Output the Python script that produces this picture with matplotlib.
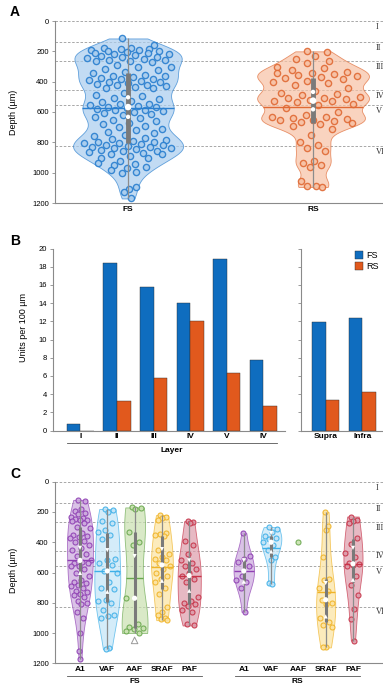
import numpy as np
import matplotlib.pyplot as plt
import matplotlib.transforms as mtransforms
from matplotlib import mlab

plt.rcParams['font.family'] = ['Liberation Sans', 'DejaVu Sans']

# --- A: recording depth (um) of every unit
fs_depth = [115, 160,
            175, 180, 182, 185, 188, 190, 195, 200, 205, 210, 212, 218, 220, 225,
            230, 235, 240, 245, 250, 255, 258, 262, 265, 270,
            290, 300, 305, 315, 325, 335, 345,
            355, 360, 362, 368, 375, 380, 385, 390, 395, 400, 405, 410, 415, 420,
            425, 430, 435, 440, 445,
            475, 485, 495, 505, 515, 525, 535,
            545, 550, 555, 560, 565, 570, 575, 580, 585, 590, 595, 600, 605, 610,
            620, 630, 640, 650, 660, 670, 680, 690, 700, 710, 720, 730, 740,
            750, 760, 770,
            780, 785, 790, 795, 800, 803, 806, 810, 815, 820, 825, 828, 832, 836,
            840, 845, 850, 855, 860, 865, 870, 875, 880, 890, 900, 905,
            920, 935, 945, 950, 960, 970, 980, 995,
            1005, 1095, 1110, 1130, 1170]
rs_depth = [200, 205, 230, 250, 265, 280, 300, 310, 325, 335, 340, 345, 350, 355,
            360, 370, 375, 380, 395, 405, 410, 420, 440, 460, 475, 480, 490, 500,
            505, 510, 515, 520, 525, 530, 535, 545, 555, 575, 600, 620, 630, 635,
            640, 645, 650, 655, 660, 665, 670, 680, 695, 710, 750, 800, 815, 840,
            860, 920, 935, 950, 960, 1055, 1085, 1090, 1095]

layer_depth = [0, 140, 265, 455, 555, 825]
layer_name = ['I', 'II', 'III', 'IV', 'V', 'VI']

# --- B: units per 100 um
layer_ticks = ['I', 'II', 'III', 'IV', 'V', 'IV']
fs_density = [0.7, 18.4, 15.8, 14.0, 18.9, 7.8]
rs_density = [0.0, 3.2, 5.8, 12.0, 6.3, 2.7]
group_ticks = ['Supra', 'Infra']
fs_group = [11.9, 12.4]
rs_group = [3.3, 4.2]

# --- C: depth by auditory field
fields = ['A1', 'VAF', 'AAF', 'SRAF', 'PAF']
fs_a1 = [120, 130, 180, 195, 205, 215, 230, 240, 245, 250, 255, 260, 270, 300, 305,
         340, 355, 360, 365, 370, 395, 400, 420, 440, 450, 480, 490, 520, 530, 535,
         540, 555, 560, 580, 600, 620, 650, 660, 670, 680, 690, 700, 720, 730, 740,
         750, 760, 790, 800, 810, 860, 900, 1000, 1120, 1170]
fs_vaf = [180, 185, 200, 260, 270, 320, 330, 350, 380, 510, 520, 540, 550, 590, 600,
          660, 700, 710, 780, 790, 800, 850, 880, 890, 900, 1100, 1105]
fs_aaf = [170, 175, 180, 330, 400, 420, 770, 940, 960, 970, 975, 985, 1000]
fs_sraf = [220, 230, 240, 250, 340, 345, 350, 360, 450, 480, 500, 510, 520, 540, 560,
           580, 600, 620, 640, 660, 700, 740, 830, 860, 880, 900, 910, 915]
fs_paf = [260, 265, 270, 395, 415, 475, 520, 540, 560, 580, 600, 620, 640, 660, 760,
          790, 800, 810, 820, 850, 860, 940, 950]
rs_a1 = [340, 490, 510, 530, 560, 620, 650, 660, 700, 860]
rs_vaf = [300, 310, 330, 360, 370, 380, 400, 420, 450, 500, 520, 670, 675]
rs_aaf = [400]
rs_sraf = [200, 290, 320, 500, 640, 650, 700, 720, 780, 800, 810, 900, 930, 950, 960,
           1090, 1095]
rs_paf = [230, 250, 260, 270, 370, 410, 470, 500, 540, 545, 550, 560, 620, 680, 750,
          840, 910, 1050]

field_fill = ['#cba8de', '#c2e4f7', '#c9e1b0', '#fce3a0', '#dd9caa']
field_line = ['#8f40b3', '#3fb0e8', '#6aa84f', '#f0b429', '#c73449']


def spread(n):
    # golden-ratio sequence, evenly scattered in [-1, 1]
    return ((np.arange(n) * 0.6180339887 + 0.31) % 1.0) * 2 - 1


def violin(ax, data, pos, width, fill, line, bw, size, big, tri):
    data = np.sort(np.asarray(data, float))
    n = len(data)
    if n > 1:
        vp = ax.violinplot([data], positions=[pos], widths=width, showextrema=False,
                           bw_method=bw)
        body = vp['bodies'][0]
        body.set_facecolor(fill)
        body.set_edgecolor(line)
        body.set_alpha(0.7)
        body.set_linewidth(0.6)
        body.set_zorder(1)
        kde = mlab.GaussianKDE(data, bw)
        grid = np.linspace(data.min(), data.max(), 100)
        peak = kde.evaluate(grid).max()
        half = 0.5 * width * kde.evaluate(data) / peak
    else:
        half = np.zeros(n)
    xs = pos + half * 0.85 * spread(n)
    ax.scatter(xs, data, s=size, facecolor=fill, edgecolor=line,
               linewidth=1.0 if big else 0.8, alpha=0.9, zorder=2)
    if n < 2:
        return
    q1, med, q3 = np.percentile(data, [25, 50, 75])
    mean = data.mean()
    mhalf = 0.5 * width * kde.evaluate([mean])[0] / peak
    ax.hlines(mean, pos - mhalf, pos + mhalf, color=line, lw=1.0, zorder=3)
    ax.vlines(pos, data.min(), data.max(), color='#8c8c8c', lw=0.9, zorder=3)
    ax.vlines(pos, q1, q3, color='#7a7a7a', lw=3.5 if big else 2.2, zorder=4)
    notch = 1.57 * (q3 - q1) / np.sqrt(n)
    for v, m in [(med - notch, 'v' if tri else 'o'), (med + notch, '^' if tri else 'o')]:
        if data.min() <= v <= data.max():
            ax.scatter(pos, v, s=10 if big else 9, marker=m, color='white',
                       edgecolor='none', zorder=5)
        else:
            ax.scatter(pos, v, s=22, marker='^', facecolor='none',
                       edgecolor='#9a9a9a', lw=0.7, zorder=5)
    ax.scatter(pos, med, s=22 if big else 14, color='white', edgecolor='none', zorder=5)


def layers(ax):
    tr = mtransforms.blended_transform_factory(ax.transAxes, ax.transData)
    for d, name in zip(layer_depth, layer_name):
        ax.axhline(d, color='#9a9a9a', lw=0.6, ls=(0, (3, 2)), zorder=0)
        ax.text(0.977, d + 12, name, transform=tr, va='top', ha='left',
                family='Liberation Serif', fontsize=6, color='#333333', clip_on=False)


def depth_axis(ax):
    ax.set_ylim(1200, 0)
    ax.set_yticks(range(0, 1201, 200))
    for s in ['top', 'right']:
        ax.spines[s].set_visible(False)
    for s in ['left', 'bottom']:
        ax.spines[s].set_color('#8a8a8a')
        ax.spines[s].set_linewidth(0.8)
    ax.tick_params(axis='y', length=2.5, width=0.6, color='#8a8a8a', labelsize=5.5, pad=2)
    ax.tick_params(axis='x', length=0, pad=2)


fig = plt.figure(figsize=(3.83, 6.85), dpi=100)
W, H = 383.0, 685.0


def box(x0, y0, x1, y1):
    # pixel box (top-left origin) -> figure fraction rect
    return [x0 / W, 1 - y1 / H, (x1 - x0) / W, (y1 - y0) / H]


# ---------------- A
axA = fig.add_axes(box(55, 21, 383, 203))
layers(axA)
violin(axA, fs_depth, 0, 0.595, '#a9cdee', '#2a7fcf', 0.25, 20, True, False)
violin(axA, rs_depth, 1, 0.605, '#f7c1a4', '#e06a35', 0.22, 20, True, False)
axA.set_xlim(-0.395, 1.378)
depth_axis(axA)
axA.set_xticks([0, 1])
axA.set_xticklabels(['FS', 'RS'], fontweight='bold', fontsize=6)

# ---------------- B
fs_col, rs_col = '#0f6dbf', '#e1591d'
bw = 0.37
axB = fig.add_axes(box(53, 248.5, 285, 430.5))
xb = np.arange(len(layer_ticks))
axB.bar(xb - bw / 2, fs_density, bw, color=fs_col, edgecolor='#2a2a2a', lw=0.3)
axB.bar(xb + bw / 2, rs_density, bw, color=rs_col, edgecolor='#2a2a2a', lw=0.3)
axB.set_xlim(-0.75, 5.59)
axB.set_xticks(xb)
axB.set_xticklabels(layer_ticks, fontweight='bold', fontsize=6)

axB2 = fig.add_axes(box(300.7, 248.5, 383, 430.5))
xg = np.arange(len(group_ticks))
axB2.bar(xg - bw / 2, fs_group, bw, color=fs_col, edgecolor='#2a2a2a', lw=0.3, label='FS')
axB2.bar(xg + bw / 2, rs_group, bw, color=rs_col, edgecolor='#2a2a2a', lw=0.3, label='RS')
axB2.set_xlim(-0.685, 1.57)
axB2.set_xticks(xg)
axB2.set_xticklabels(group_ticks, fontweight='bold', fontsize=6)
axB2.legend(loc='upper right', bbox_to_anchor=(1.02, 1.02), frameon=False, fontsize=6.5,
            handlelength=0.9, handleheight=0.9, handletextpad=0.3, labelspacing=0.2,
            borderpad=0.2)

for ax in (axB, axB2):
    ax.set_ylim(0, 20)
    ax.set_yticks(range(0, 21, 2))
    for s in ['top', 'right']:
        ax.spines[s].set_visible(False)
    for s in ['left', 'bottom']:
        ax.spines[s].set_color('#8a8a8a')
        ax.spines[s].set_linewidth(0.8)
    ax.tick_params(axis='y', length=2.5, width=0.6, color='#8a8a8a', labelsize=5.5, pad=2)
    ax.tick_params(axis='x', length=0, pad=2)
axB2.tick_params(axis='y', labelleft=False)

trB = mtransforms.blended_transform_factory(axB.transData, axB.transAxes)
axB.plot([-0.37, 5.37], [-0.067, -0.067], color='#555555', lw=0.6, transform=trB,
         clip_on=False)
axB.text(2.5, -0.09, 'Layer', transform=trB, ha='center', va='top', fontsize=6,
         fontweight='bold')

# ---------------- C
axC = fig.add_axes(box(55, 481.7, 383, 663.3))
layers(axC)
fs_sets = [fs_a1, fs_vaf, fs_aaf, fs_sraf, fs_paf]
rs_sets = [rs_a1, rs_vaf, rs_aaf, rs_sraf, rs_paf]
fs_w = [0.95, 0.95, 0.95, 0.8, 0.85]
rs_w = [0.75, 0.75, 0.75, 0.7, 0.7]
for i in range(len(fields)):
    violin(axC, fs_sets[i], i, fs_w[i], field_fill[i], field_line[i], 0.6, 13, False, True)
    violin(axC, rs_sets[i], i + 6, rs_w[i], field_fill[i], field_line[i], 0.6, 13, False, True)
axC.set_xlim(-0.916, 11.1)
depth_axis(axC)
axC.set_xticks(list(range(5)) + list(range(6, 11)))
axC.set_xticklabels(fields + fields, fontweight='bold', fontsize=6)

trC = mtransforms.blended_transform_factory(axC.transData, axC.transAxes)
for x0, x1, name in [(-0.48, 4.47, 'FS'), (5.68, 10.26, 'RS')]:
    axC.plot([x0, x1], [-0.07, -0.07], color='#555555', lw=0.6, transform=trC,
             clip_on=False)
    axC.text((x0 + x1) / 2, -0.083, name, transform=trC, ha='center', va='top',
             fontsize=6, fontweight='bold')

# axis titles and panel letters
fig.text(14 / W, 1 - 112 / H, 'Depth (µm)', rotation=90, ha='center', va='center', fontsize=6.5)
fig.text(24 / W, 1 - 327 / H, 'Units per 100 µm', rotation=90, ha='center', va='center',
         fontsize=6.5)
fig.text(14 / W, 1 - 570 / H, 'Depth (µm)', rotation=90, ha='center', va='center', fontsize=6.5)
for lab, y in [('A', 12.5), ('B', 241), ('C', 474)]:
    fig.text(15 / W, 1 - y / H, lab, ha='center', va='center', fontsize=10, fontweight='bold')

fig.savefig('out.png', dpi=100)
